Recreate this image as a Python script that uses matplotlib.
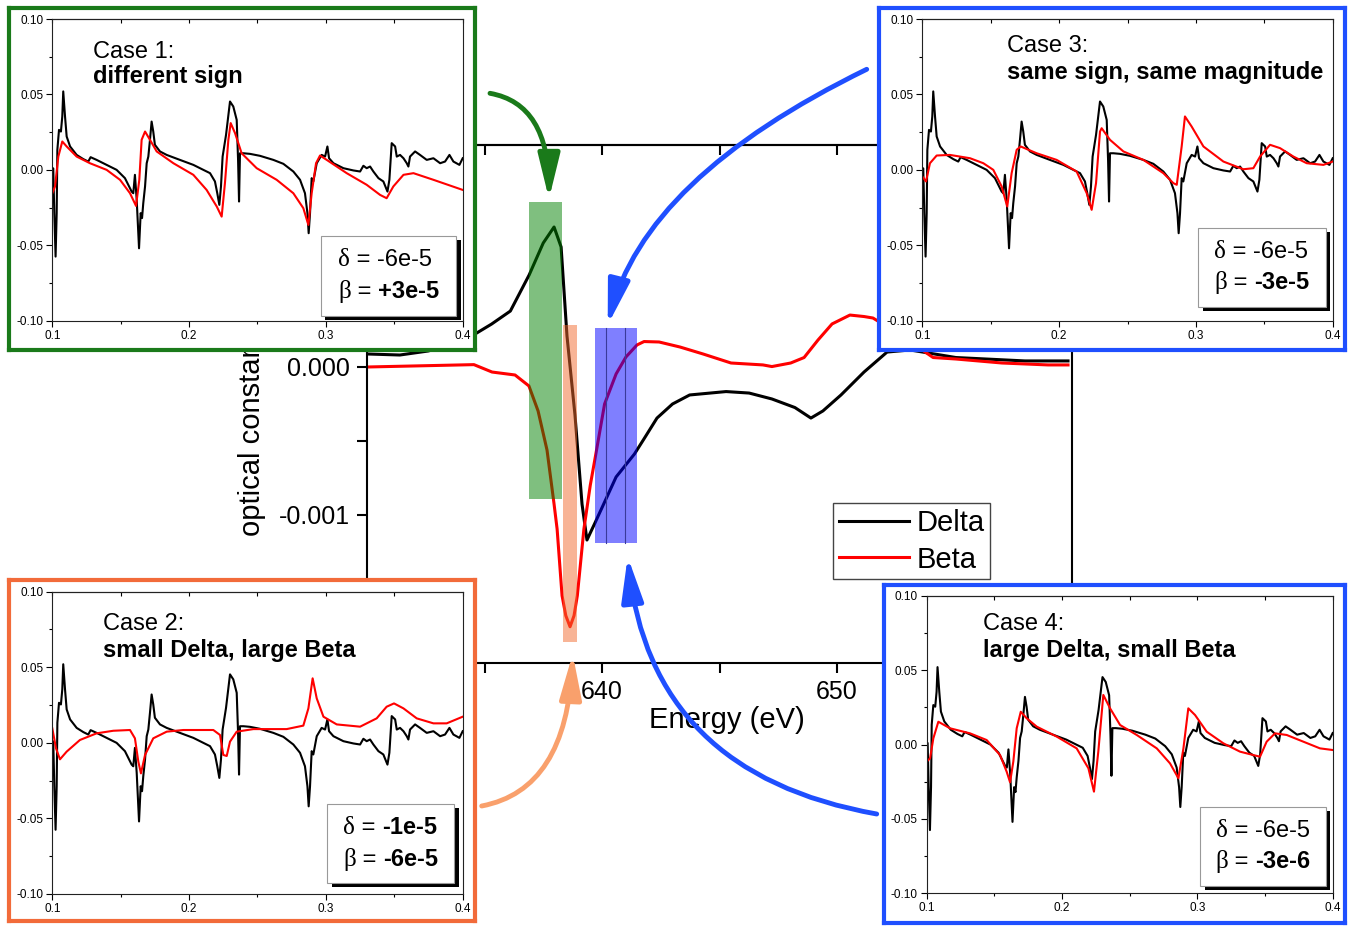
import numpy as np
import matplotlib.pyplot as plt
from matplotlib.patches import Rectangle, FancyArrowPatch
from matplotlib.offsetbox import TextArea, HPacker, VPacker, AnnotationBbox
from matplotlib.transforms import offset_copy

plt.rcParams['font.family'] = ['Liberation Sans', 'DejaVu Sans']
plt.rcParams['axes.unicode_minus'] = False

# ---- main spectrum (energy in eV, values in units of 1e-3) ----
delta_E = [630.0, 631.4, 632.6, 633.7, 634.6, 635.3, 636.1, 636.9, 637.5, 637.96,
           638.26, 638.51, 638.85, 639.15, 639.36, 639.72, 640.21, 640.6, 641.38,
           641.77, 642.34, 643.0, 643.73, 645.28, 646.26, 647.23, 648.21, 648.89,
           649.4, 650.17, 651.15, 652.13, 653.11, 655.06, 658.0, 659.83]
delta_v = [0.088, 0.081, 0.108, 0.155, 0.223, 0.29, 0.378, 0.622, 0.838, 0.946,
           0.811, 0.21, -0.324, -0.926, -1.169, -1.047, -0.878, -0.743, -0.588,
           -0.49, -0.345, -0.25, -0.189, -0.166, -0.176, -0.216, -0.274, -0.345,
           -0.297, -0.189, -0.034, 0.101, 0.115, 0.064, 0.041, 0.041]

beta_E = [630.0, 634.55, 635.32, 636.3, 636.89, 637.28, 637.66, 637.96, 638.09,
          638.30, 638.46, 638.64, 638.81, 638.95, 639.23, 639.50, 639.78, 640.11,
          640.6, 641.02, 641.49, 641.79, 642.43, 643.32, 644.3, 645.49, 646.85,
          647.23, 648.03, 648.6, 649.19, 649.79, 650.55, 651.15, 651.53, 652.64,
          654.09, 655.06, 657.02, 658.98, 659.83]
beta_v = [0.0, 0.016, -0.034, -0.054, -0.128, -0.297, -0.561, -0.926, -1.095,
          -1.545, -1.680, -1.755, -1.680, -1.545, -1.095, -0.80, -0.55, -0.25,
          -0.047, 0.068, 0.149, 0.172, 0.169, 0.135, 0.088, 0.027, 0.014,
          0.003, 0.027, 0.064, 0.182, 0.291, 0.351, 0.341, 0.331, 0.223,
          0.064, 0.054, 0.027, 0.014, 0.014]

# highlighted energy windows: (E0, E1, v0, v1), v in 1e-3
span_green = (636.89, 638.29, -0.892, 1.113)
span_orange = (638.35, 638.95, -1.856, 0.284)
span_blue = (639.69, 641.50, -1.189, 0.261)
blue_marks = [640.18, 640.98]

# ---- inset data: measured trace (black), shared by all four cases ----
measured = [(0.1, 0.001), (0.1007, 0.001), (0.10146, -0.0287), (0.1024, -0.0575),
            (0.1032, -0.0287), (0.1037, 0.0133), (0.1049, 0.0265), (0.1063, 0.0254),
            (0.1073, 0.0354), (0.108, 0.052), (0.1093, 0.0354), (0.1105, 0.0221),
            (0.113, 0.0155), (0.1178, 0.0099), (0.1227, 0.0071), (0.1263, 0.0055),
            (0.128, 0.0084), (0.1324, 0.0066), (0.1397, 0.0033), (0.147, 0.0),
            (0.1531, -0.0055), (0.158, -0.0144), (0.1592, -0.0155), (0.1604, -0.0033),
            (0.1617, -0.0199), (0.1634, -0.052), (0.1646, -0.0287), (0.1656, -0.032),
            (0.1665, -0.0221), (0.1678, -0.011), (0.169, 0.0044), (0.1702, 0.0088),
            (0.1714, 0.0199), (0.1726, 0.032), (0.1738, 0.0254), (0.175, 0.0166),
            (0.1787, 0.0122), (0.1836, 0.0099), (0.1933, 0.0066), (0.2031, 0.0033),
            (0.2104, 0.0), (0.2153, -0.0022), (0.2189, -0.0077), (0.2206, -0.0155),
            (0.2221, -0.0232), (0.2233, -0.011), (0.2245, 0.0088), (0.227, 0.0232),
            (0.2299, 0.0453), (0.2323, 0.042), (0.2348, 0.0331), (0.2358, 0.0066),
            (0.2365, -0.021), (0.2372, 0.011), (0.2397, 0.011), (0.2445, 0.0106),
            (0.2518, 0.0093), (0.2616, 0.0066), (0.2689, 0.004), (0.2762, -0.0011),
            (0.2811, -0.0066), (0.2847, -0.0155), (0.2865, -0.0287), (0.2874, -0.042),
            (0.2884, -0.0287), (0.2896, -0.0055), (0.2908, -0.0077), (0.2933, 0.0044),
            (0.2969, 0.0099), (0.2994, 0.0088), (0.3011, 0.0155), (0.3023, 0.0077),
            (0.3055, 0.0044), (0.3128, 0.0011), (0.3201, -0.0004), (0.325, -0.0011),
            (0.3274, 0.0027), (0.3298, 0.0011), (0.3323, 0.0022), (0.3347, -0.0011),
            (0.3384, -0.0055), (0.342, -0.0077), (0.345, -0.0144), (0.3464, -0.0066),
            (0.3481, 0.0177), (0.3506, 0.0155), (0.3518, 0.0088), (0.3542, 0.0099),
            (0.3567, 0.0077), (0.3591, 0.0044), (0.3603, 0.0022), (0.3615, 0.0088),
            (0.3652, 0.0122), (0.3688, 0.0099), (0.3737, 0.0066), (0.3786, 0.0077),
            (0.3835, 0.0044), (0.3871, 0.0055), (0.3903, 0.0099), (0.3932, 0.0055),
            (0.3976, 0.0033), (0.4, 0.0077)]

# simulated traces (red)
sim_case1 = [(0.1, -0.0155), (0.102, -0.011), (0.1044, 0.0088), (0.1073, 0.0188),
             (0.1105, 0.0155), (0.1178, 0.0088), (0.1275, 0.0044), (0.1397, 0.0),
             (0.1495, -0.0066), (0.1568, -0.0155), (0.1612, -0.0239), (0.1636, -0.0066),
             (0.1653, 0.0199), (0.1678, 0.0254), (0.1714, 0.0199), (0.1763, 0.0122),
             (0.1885, 0.0044), (0.2031, -0.0033), (0.2128, -0.0133), (0.2202, -0.0243),
             (0.2238, -0.031), (0.2262, -0.0088), (0.2287, 0.0199), (0.2304, 0.031),
             (0.2336, 0.0243), (0.2384, 0.011), (0.2494, 0.0011), (0.264, -0.0066),
             (0.2762, -0.0155), (0.2835, -0.0254), (0.2872, -0.0365), (0.2896, -0.0155),
             (0.2928, 0.0044), (0.2957, 0.0095), (0.3006, 0.0066), (0.3152, -0.0022),
             (0.3298, -0.0099), (0.3396, -0.0166), (0.3444, -0.0188), (0.3493, -0.011),
             (0.3567, -0.0033), (0.364, -0.0022), (0.3786, -0.0066), (0.4, -0.0133)]
sim_case2 = [(0.1, 0.0096), (0.1027, -0.0036), (0.1056, -0.0109), (0.1105, -0.0058),
             (0.1202, 0.0019), (0.1324, 0.0063), (0.1446, 0.008), (0.1568, 0.0085),
             (0.1604, 0.003), (0.1629, -0.0125), (0.1648, -0.0202), (0.1678, -0.008),
             (0.1738, 0.003), (0.1836, 0.0074), (0.1958, 0.0085), (0.2177, 0.0085),
             (0.2226, 0.0052), (0.225, -0.008), (0.2275, -0.0087), (0.2299, 0.0008),
             (0.2348, 0.0074), (0.247, 0.0091), (0.2713, 0.0091), (0.2835, 0.0114),
             (0.2872, 0.0228), (0.2903, 0.0427), (0.2933, 0.0294), (0.2982, 0.0173),
             (0.3079, 0.0122), (0.325, 0.0107), (0.3371, 0.0162), (0.3444, 0.0239),
             (0.3498, 0.0261), (0.3567, 0.0228), (0.3664, 0.0162), (0.3786, 0.0129),
             (0.3883, 0.0129), (0.4, 0.0173)]
sim_case3 = [(0.1, -0.0044), (0.1027, -0.0077), (0.1056, 0.0044), (0.1105, 0.0095),
             (0.1202, 0.0099), (0.1349, 0.0077), (0.1446, 0.0044), (0.1519, 0.0),
             (0.158, -0.011), (0.1621, -0.0243), (0.1653, -0.0022), (0.169, 0.0133),
             (0.1719, 0.0155), (0.1836, 0.011), (0.1982, 0.0066), (0.2128, -0.0011),
             (0.2202, -0.0155), (0.2238, -0.0265), (0.227, -0.0088), (0.2299, 0.0254),
             (0.2311, 0.0276), (0.2372, 0.0199), (0.247, 0.0122), (0.2616, 0.0066),
             (0.2762, -0.0022), (0.2835, -0.0088), (0.286, -0.0099), (0.2896, 0.0155),
             (0.292, 0.0354), (0.2969, 0.0287), (0.3055, 0.0155), (0.3201, 0.0055),
             (0.3347, 0.0004), (0.342, 0.0011), (0.3469, 0.0088), (0.3542, 0.0166),
             (0.3615, 0.0144), (0.3713, 0.0088), (0.381, 0.0044), (0.3932, 0.0033),
             (0.4, 0.0055)]
sim_case4 = [(0.1, -0.0115), (0.1025, -0.0093), (0.1049, 0.0041), (0.1086, 0.0153),
             (0.1172, 0.0109), (0.132, 0.0075), (0.1443, 0.003), (0.1542, -0.0071),
             (0.1591, -0.0183), (0.1616, -0.0254), (0.164, -0.0115), (0.1665, 0.0109),
             (0.1695, 0.022), (0.1739, 0.0176), (0.1813, 0.012), (0.1961, 0.0053),
             (0.2108, -0.0026), (0.2195, -0.016), (0.2236, -0.0317), (0.2268, -0.0048),
             (0.2305, 0.0333), (0.2355, 0.0243), (0.2429, 0.0131), (0.2552, 0.0064),
             (0.27, -0.0026), (0.2798, -0.0127), (0.286, -0.0227), (0.2897, -0.0026),
             (0.2933, 0.0243), (0.2983, 0.0198), (0.3069, 0.0086), (0.3192, 0.0008),
             (0.3315, -0.0048), (0.3414, -0.0071), (0.3463, -0.0082), (0.3512, 0.0019),
             (0.3574, 0.0075), (0.366, 0.0064), (0.3783, 0.0019), (0.3906, -0.0026),
             (0.4, -0.0037)]

case_titles = ['Case 1:', 'Case 2:', 'Case 3:', 'Case 4:']
case_subtitles = ['different sign', 'small Delta, large Beta',
                  'same sign, same magnitude', 'large Delta, small Beta']
# (delta value, bold?), (beta value, bold?)
case_delta = [('-6e-5', False), ('-1e-5', True), ('-6e-5', False), ('-6e-5', False)]
case_beta = [('+3e-5', True), ('-6e-5', True), ('-3e-5', True), ('-3e-6', True)]

GREEN = '#1a7a1a'
ORANGE = '#f26b3a'
ORANGE_ARROW = '#f9a06c'
BLUE = '#1f4fff'

W, H = 1350, 926
fig = plt.figure(figsize=(W / 100, H / 100), dpi=100)


def px_rect(x0, y0, x1, y1):
    return [x0 / W, 1 - y1 / H, (x1 - x0) / W, (y1 - y0) / H]


def px(x, y):
    return (x / W, 1 - y / H)


# ---------------- main axes ----------------
ax = fig.add_axes(px_rect(367, 145, 1072, 663))
ax.plot(delta_E, np.array(delta_v) * 1e-3, color='black', lw=2.2, label='Delta', zorder=2)
ax.plot(beta_E, np.array(beta_v) * 1e-3, color='red', lw=2.2, label='Beta', zorder=2)

for (e0, e1, v0, v1), c in [(span_green, 'green'), (span_orange, '#f26b2e'),
                            (span_blue, 'blue')]:
    ax.add_patch(Rectangle((e0, v0 * 1e-3), e1 - e0, (v1 - v0) * 1e-3,
                           facecolor=c, alpha=0.5, edgecolor='none', zorder=3))
for e in blue_marks:
    ax.plot([e, e], [span_blue[2] * 1e-3, span_blue[3] * 1e-3],
            color='#3a3a9a', lw=0.8, zorder=4)

ax.set_xlim(630, 660)
ax.set_ylim(-0.002, 0.0015)
# labels at 630/660 and 0.001/-0.002 sit under the insets, so they stay blank
ax.set_xticks([630, 640, 650, 660], ['', '640', '650', ''])
ax.set_xticks([635, 645, 655], minor=True)
ax.set_yticks([-0.002, -0.001, 0.0, 0.001], ['', '-0.001', '0.000', ''])
ax.set_yticks([-0.0015, -0.0005, 0.0005, 0.0015], minor=True)
ax.tick_params(which='both', direction='out', length=7, width=1.5, labelsize=18,
               pad=5, right=False, top=False)
for s in ax.spines.values():
    s.set_linewidth(1.5)
sec = ax.secondary_xaxis('top')
sec.set_xticks([630, 635, 640, 645, 650, 655, 660])
sec.tick_params(direction='in', length=7, width=1.5, labeltop=False)
sec.spines['top'].set_linewidth(1.5)

ax.set_xlabel('Energy (eV)', fontsize=21)
ax.xaxis.set_label_coords(0.51, -0.083)
ax.set_ylabel('optical constants', fontsize=21)
ax.yaxis.set_label_coords(-0.143, 0.454)

leg = ax.legend(loc='upper left', bbox_to_anchor=(0.661, 0.309), fontsize=21,
                fancybox=False, edgecolor='#444444', framealpha=1, borderpad=0.2,
                handlelength=2.4, handletextpad=0.25, labelspacing=0.3,
                borderaxespad=0)
leg.get_frame().set_linewidth(1.0)

# ---------------- insets ----------------
frames = [(9.3, 7.7, 475, 350), (8.7, 580, 475, 921),
          (879.3, 7.7, 1345, 350), (883.7, 585, 1345, 923)]
inner = [(52.3, 19, 462.7, 320.7), (52.3, 591.7, 462.7, 894),
         (922.3, 19, 1332.7, 320.7), (926.7, 595.7, 1332.7, 893.3)]
frame_colors = [GREEN, ORANGE, BLUE, BLUE]
sims = [sim_case1, sim_case2, sim_case3, sim_case4]
title_pos = [(0.099, 0.870, 0.787), (0.124, 0.873, 0.785),
             (0.206, 0.889, 0.800), (0.138, 0.885, 0.795)]
boxes = [(0.654, 0.016, 0.984, 0.281), (0.670, 0.035, 0.979, 0.299),
         (0.672, 0.045, 0.983, 0.307), (0.674, 0.025, 0.983, 0.289)]

mx, my = np.array(measured).T
for i in range(4):
    fa = fig.add_axes(px_rect(*frames[i]))
    fa.set_xticks([])
    fa.set_yticks([])
    for s in fa.spines.values():
        s.set_color(frame_colors[i])
        s.set_linewidth(3)

    ia = fig.add_axes(px_rect(*inner[i]))
    sx, sy = np.array(sims[i]).T
    ia.plot(mx, my, color='black', lw=1.5)
    ia.plot(sx, sy, color='red', lw=1.5, solid_joinstyle='round')
    ia.set_xlim(0.1, 0.4)
    ia.set_ylim(-0.1, 0.1)
    ia.set_xticks([0.1, 0.2, 0.3, 0.4])
    ia.set_xticks([0.15, 0.25, 0.35], minor=True)
    ia.set_yticks([-0.1, -0.05, 0.0, 0.05, 0.1])
    ia.set_yticks([-0.075, -0.025, 0.025, 0.075], minor=True)
    ia.xaxis.set_major_formatter('{x:.1f}')
    ia.yaxis.set_major_formatter('{x:.2f}')
    ia.tick_params(which='major', direction='out', length=4, width=0.8,
                   labelsize=8.5, pad=2.5)
    ia.tick_params(which='minor', direction='out', length=2.5, width=0.8)
    for s in ia.spines.values():
        s.set_linewidth(0.8)
        s.set_color('#222222')
    st = ia.secondary_xaxis('top')
    st.set_xticks([0.1, 0.15, 0.2, 0.25, 0.3, 0.35, 0.4])
    st.tick_params(direction='in', length=3, width=0.8, labeltop=False)
    st.spines['top'].set_linewidth(0.8)

    tx, ty1, ty2 = title_pos[i]
    ia.text(tx, ty1, case_titles[i], transform=ia.transAxes, fontsize=17,
            va='baseline', ha='left')
    ia.text(tx, ty2, case_subtitles[i], transform=ia.transAxes, fontsize=17,
            fontweight='bold', va='baseline', ha='left')

    bx0, by0, bx1, by1 = boxes[i]
    shadow_tr = offset_copy(ia.transAxes, fig=fig, x=4.5, y=-4, units='dots')
    ia.add_patch(Rectangle((bx0, by0), bx1 - bx0, by1 - by0, transform=shadow_tr,
                           facecolor='black', edgecolor='none', clip_on=False, zorder=5))
    ia.add_patch(Rectangle((bx0, by0), bx1 - bx0, by1 - by0, transform=ia.transAxes,
                           facecolor='white', edgecolor='#999999', lw=0.8,
                           clip_on=False, zorder=6))

    rows = []
    for sym, (val, bold) in [('δ', case_delta[i]), ('β', case_beta[i])]:
        parts = [TextArea(sym, textprops=dict(family='Liberation Serif', size=18)),
                 TextArea(' = ', textprops=dict(size=17)),
                 TextArea(val, textprops=dict(size=17,
                                               weight='bold' if bold else 'normal'))]
        rows.append(HPacker(children=parts, sep=0, pad=0, align='baseline'))
    vp = VPacker(children=rows, sep=6, pad=0, align='left')
    ab = AnnotationBbox(vp, ((bx0 + bx1) / 2, (by0 + by1) / 2), xycoords='axes fraction',
                        frameon=False, pad=0, box_alignment=(0.5, 0.5), zorder=7)
    ia.add_artist(ab)

# ---------------- arrows ----------------
arrows = [((490, 93.3), (549, 199), -10, 90, GREEN),
          ((866.7, 69.3), (607.7, 325), 26, 76, BLUE),
          ((481.7, 806), (572.7, 654), 10.7, 87.4, ORANGE_ARROW),
          ((876.7, 814), (627.7, 556.7), 170, 96, BLUE)]
for a, b, angA, angB, c in arrows:
    arr = FancyArrowPatch(px(*a), px(*b), transform=fig.transFigure,
                          arrowstyle='-|>,head_length=1.35,head_width=0.33',
                          connectionstyle=f'angle3,angleA={angA},angleB={angB}',
                          mutation_scale=20, lw=3.5, color=c, shrinkA=0, shrinkB=0,
                          zorder=10)
    fig.add_artist(arr)

fig.savefig('out.png', dpi=100)
